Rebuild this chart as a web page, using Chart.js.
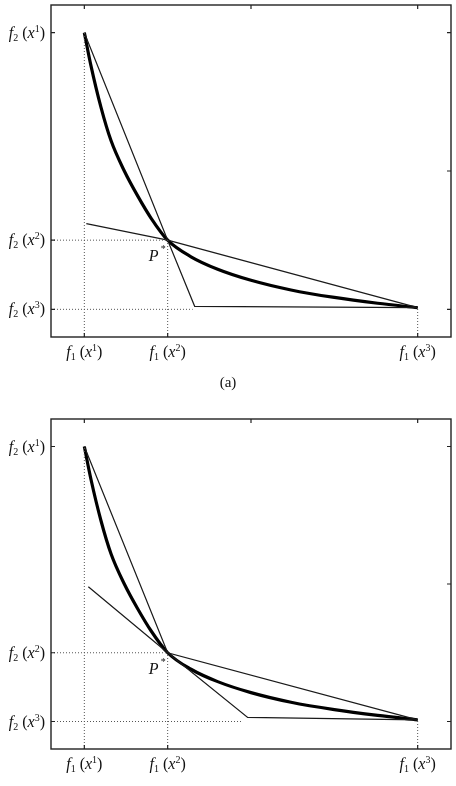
<!DOCTYPE html>
<html>
<head>
<meta charset="utf-8">
<script src="https://cdn.jsdelivr.net/npm/chart.js@4/dist/chart.umd.min.js"></script>
<style>
  body { margin: 0; background: #fff; }
  #wrap { position: relative; width: 456px; height: 786px; }
  canvas { position: absolute; left: 0; }
</style>
</head>
<body>
<div id="wrap">
  <canvas id="chartA" width="456" height="395" style="top:0"></canvas>
  <canvas id="chartB" width="456" height="391" style="top:395px"></canvas>
</div>
<script>
// axis range and ticks (normalised objective space)
const axisMin = -0.1;
const axisMax = 1.1;
const xTicksBottom = [0, 0.25, 1];
const xTicksTop = [0, 0.5, 1];
const yTicksLeft = [0, 0.25, 1];
const yTicksRight = [0, 0.5, 1];
const xTickLabels = ['f_1 (x^1)', 'f_1 (x^2)', 'f_1 (x^3)'];
const yTickLabels = ['f_2 (x^3)', 'f_2 (x^2)', 'f_2 (x^1)'];

// Pareto front (thick curve)
const curveX = [0, 0.02, 0.05, 0.08, 0.12, 0.16, 0.2, 0.25, 0.32, 0.40, 0.50, 0.62, 0.75, 0.88, 1];
const curveY = [1, 0.88, 0.73, 0.61, 0.50, 0.41, 0.33, 0.25, 0.19, 0.145, 0.105, 0.07, 0.043, 0.022, 0.006];

// panel (a) thin lines
const aLine1X = [0, 0.25, 0.331, 1];
const aLine1Y = [1, 0.25, 0.011, 0.006];
const aLine2X = [0.006, 0.25, 1];
const aLine2Y = [0.31, 0.25, 0.006];
const aDotEndX = 0.325;

// panel (b) thin lines
const bLine1X = [0, 0.25, 1];
const bLine1Y = [1, 0.25, 0.006];
const bLine2X = [0.012, 0.25, 0.49, 1];
const bLine2Y = [0.49, 0.25, 0.015, 0.006];
const bDotEndX = 0.47;

const SERIF = '"Liberation Serif", "Times New Roman", serif';

function pts(xs, ys) {
  return xs.map((x, i) => ({ x: x, y: ys[i] }));
}

function parseRich(str) {
  const toks = [];
  for (let i = 0; i < str.length; i++) {
    const c = str[i];
    if (c === '_' || c === '^') {
      toks.push({ c: str[i + 1], kind: c === '_' ? 'sub' : 'sup' });
      i++;
    } else {
      toks.push({ c: c, kind: /[a-zA-Z]/.test(c) ? 'it' : 'norm' });
    }
  }
  return toks;
}

function fontFor(t) {
  if (t.kind === 'sub' || t.kind === 'sup') return '10px ' + SERIF;
  if (t.kind === 'it') return 'italic 16px ' + SERIF;
  return '16px ' + SERIF;
}

function drawRich(ctx, str, x, y, align) {
  const toks = parseRich(str);
  let w = 0;
  toks.forEach(t => { ctx.font = fontFor(t); t.w = ctx.measureText(t.c).width; w += t.w; });
  let cx = align === 'right' ? x - w : (align === 'center' ? x - w / 2 : x);
  ctx.textAlign = 'left';
  ctx.textBaseline = 'alphabetic';
  toks.forEach(t => {
    ctx.font = fontFor(t);
    const dy = t.kind === 'sub' ? 3 : (t.kind === 'sup' ? -6 : 0);
    ctx.fillText(t.c, cx, y + dy);
    cx += t.w;
  });
}

// box, inward ticks and the custom labels
const framePlugin = {
  id: 'frame',
  afterDraw(chart, args, opts) {
    const ctx = chart.ctx;
    const a = chart.chartArea;
    const xs = chart.scales.x, ys = chart.scales.y;
    const tl = 4;
    ctx.save();
    ctx.strokeStyle = '#222';
    ctx.lineWidth = 1.4;
    ctx.strokeRect(a.left, a.top, a.right - a.left, a.bottom - a.top);
    ctx.lineWidth = 1.2;
    ctx.beginPath();
    xTicksBottom.forEach(v => { const p = xs.getPixelForValue(v); ctx.moveTo(p, a.bottom); ctx.lineTo(p, a.bottom - tl); });
    xTicksTop.forEach(v => { const p = xs.getPixelForValue(v); ctx.moveTo(p, a.top); ctx.lineTo(p, a.top + tl); });
    yTicksLeft.forEach(v => { const p = ys.getPixelForValue(v); ctx.moveTo(a.left, p); ctx.lineTo(a.left + tl, p); });
    yTicksRight.forEach(v => { const p = ys.getPixelForValue(v); ctx.moveTo(a.right, p); ctx.lineTo(a.right - tl, p); });
    ctx.stroke();

    ctx.fillStyle = '#111';
    xTicksBottom.forEach((v, i) => drawRich(ctx, xTickLabels[i], xs.getPixelForValue(v), a.bottom + 20, 'center'));
    yTicksLeft.forEach((v, i) => drawRich(ctx, yTickLabels[i], a.left - 6, ys.getPixelForValue(v) + 5, 'right'));

    // P* next to the knee point
    const px = xs.getPixelForValue(0.25), py = ys.getPixelForValue(0.25);
    ctx.font = 'italic 16px ' + SERIF;
    ctx.fillText('P', px - 19, py + 21);
    ctx.font = '10px ' + SERIF;
    ctx.fillText('*', px - 7, py + 12);

    if (opts.caption) {
      ctx.font = '15px ' + SERIF;
      ctx.textAlign = 'center';
      ctx.fillText(opts.caption, 228, a.bottom + 50);
    }
    ctx.restore();
  }
};

function thin(data) {
  return { data: data, borderColor: '#1a1a1a', borderWidth: 1.2, pointRadius: 0, showLine: true, tension: 0 };
}
function dotted(data) {
  return { data: data, borderColor: '#555', borderWidth: 1, borderDash: [1, 2], pointRadius: 0, showLine: true, tension: 0 };
}

function makeChart(id, line1, line2, dotEnd, padding, caption) {
  const datasets = [
    dotted(pts([0, 0], [axisMin, 1])),
    dotted(pts([0.25, 0.25], [axisMin, 0.25])),
    dotted(pts([1, 1], [axisMin, 0.006])),
    dotted(pts([axisMin, 0.25], [0.25, 0.25])),
    dotted(pts([axisMin, dotEnd], [0, 0])),
    thin(line1),
    thin(line2),
    {
      data: pts(curveX, curveY), borderColor: '#000', borderWidth: 3.2,
      pointRadius: 0, showLine: true, cubicInterpolationMode: 'monotone'
    }
  ];
  return new Chart(document.getElementById(id), {
    type: 'scatter',
    data: { datasets: datasets },
    options: {
      responsive: false,
      animation: false,
      layout: { padding: padding },
      plugins: { legend: { display: false }, tooltip: { enabled: false }, frame: { caption: caption } },
      scales: {
        x: { type: 'linear', min: axisMin, max: axisMax, display: false },
        y: { type: 'linear', min: axisMin, max: axisMax, display: false }
      }
    },
    plugins: [framePlugin]
  });
}

makeChart('chartA', pts(aLine1X, aLine1Y), pts(aLine2X, aLine2Y), aDotEndX,
  { left: 51, top: 5, right: 5, bottom: 58 }, '(a)');
makeChart('chartB', pts(bLine1X, bLine1Y), pts(bLine2X, bLine2Y), bDotEndX,
  { left: 51, top: 24, right: 5, bottom: 37 }, null);
</script>
</body>
</html>
